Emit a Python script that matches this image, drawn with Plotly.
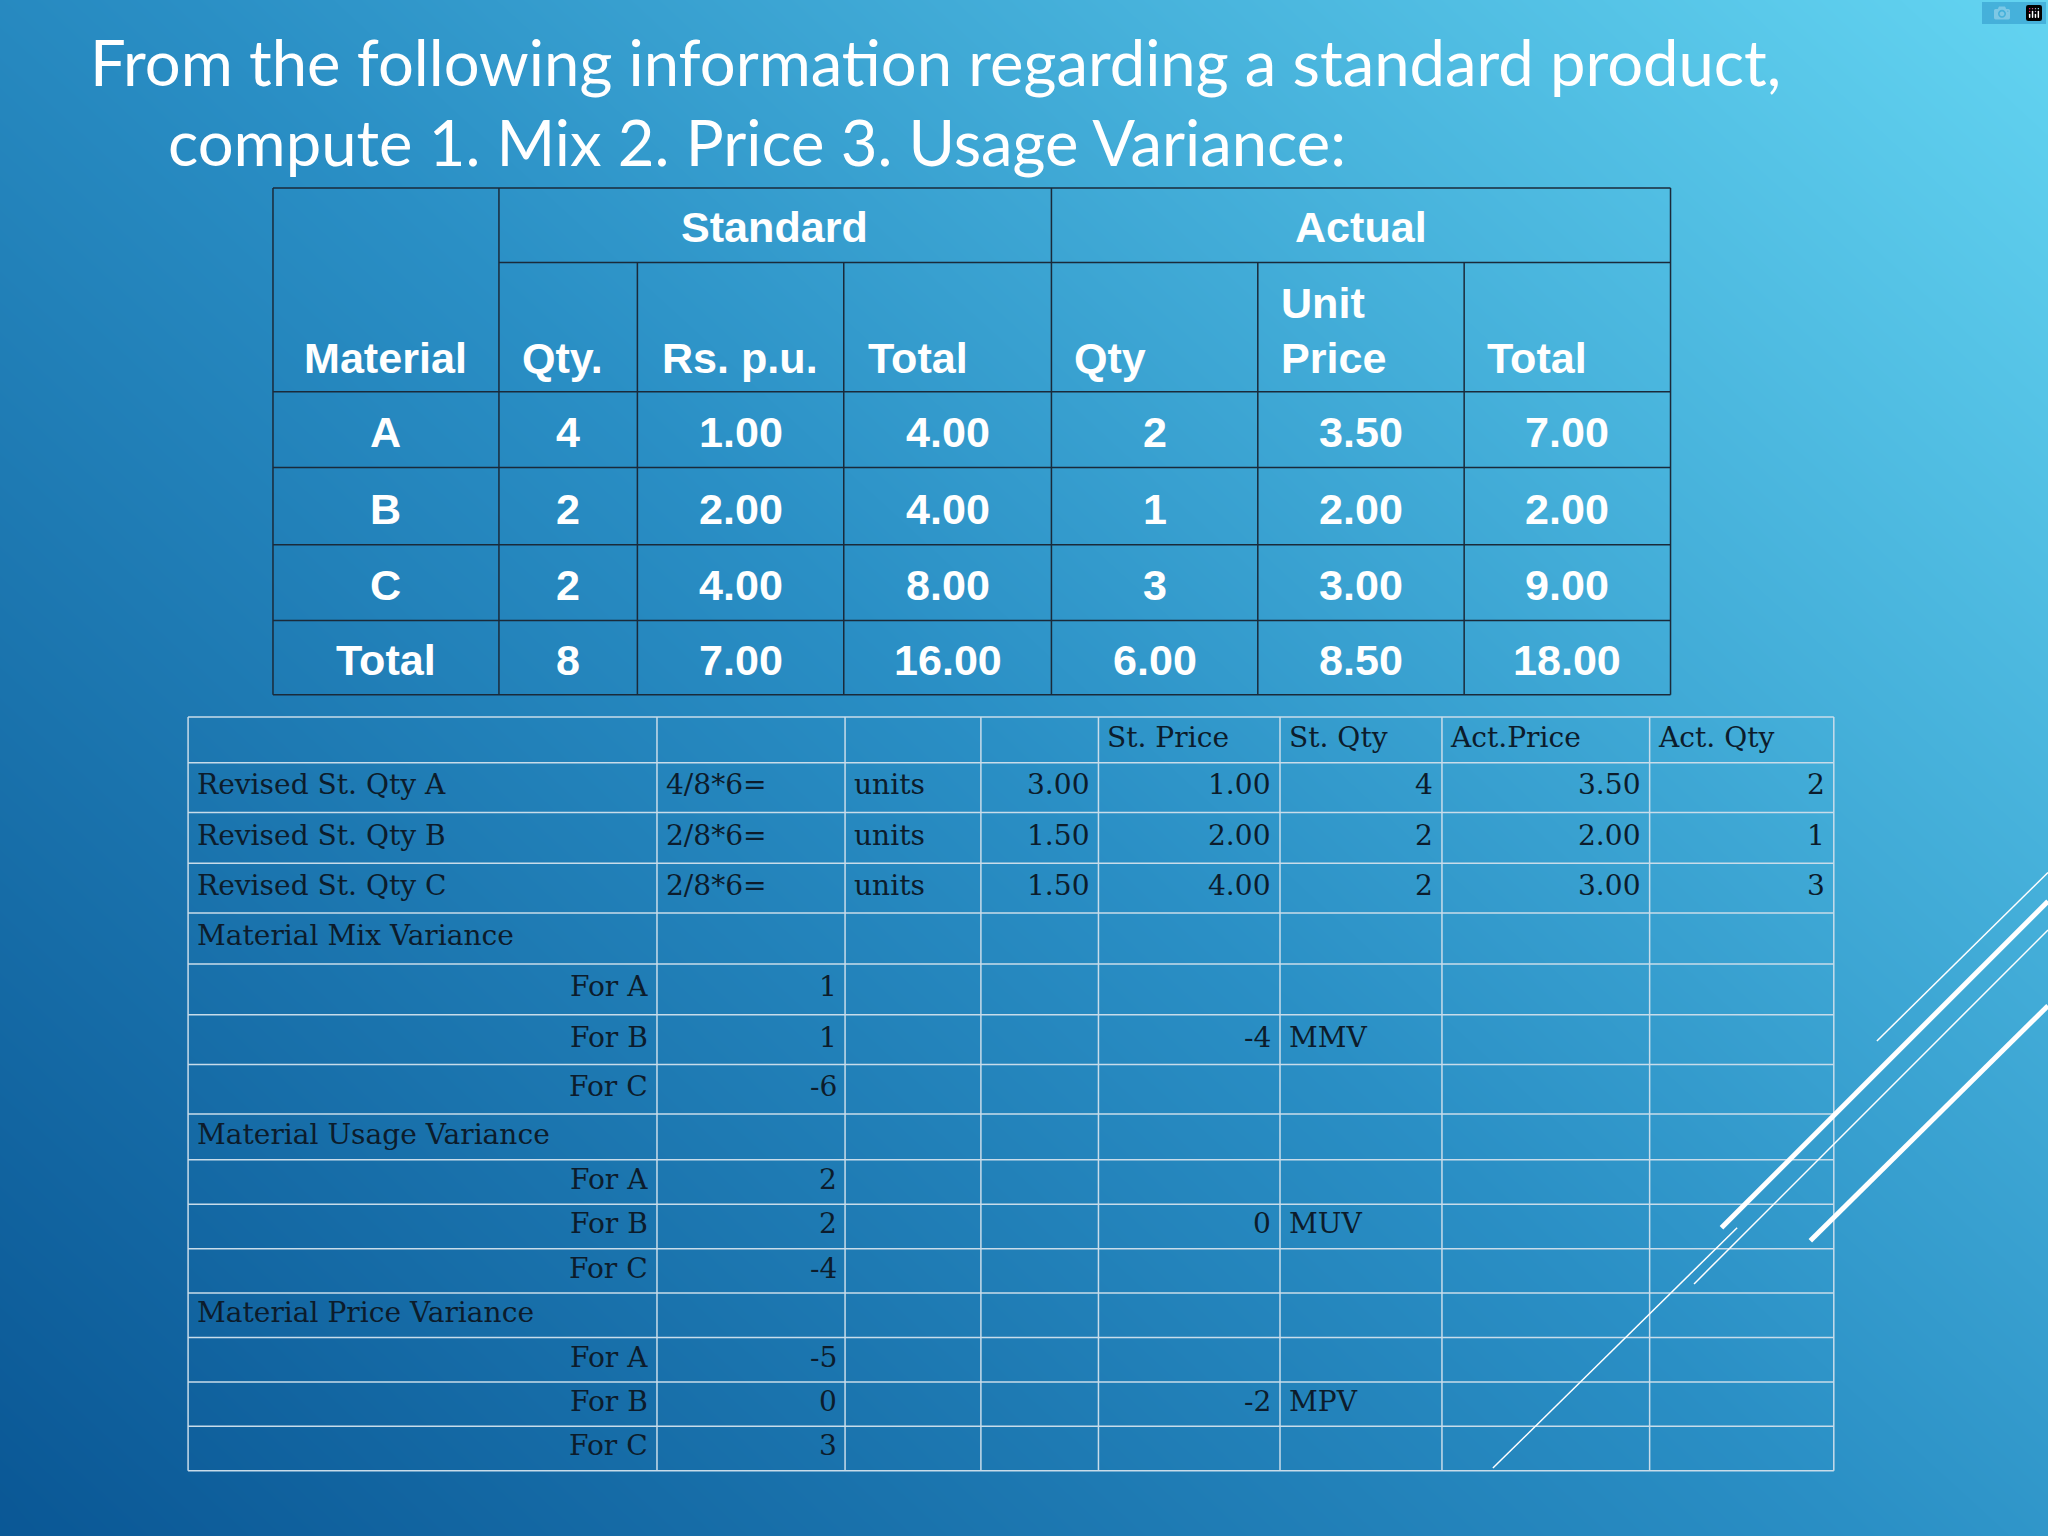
import plotly.graph_objects as go
import numpy as np

S = 2048/1568
title1 = "From the following information regarding a standard product,"
title2 = "compute 1. Mix 2. Price 3. Usage Variance:"

materials = ["A", "B", "C", "Total"]
std_qty = ["4", "2", "2", "8"]
std_rate = ["1.00", "2.00", "4.00", "7.00"]
std_total = ["4.00", "4.00", "8.00", "16.00"]
act_qty = ["2", "1", "3", "6.00"]
act_price = ["3.50", "2.00", "3.00", "8.50"]
act_total = ["7.00", "2.00", "9.00", "18.00"]

calc_header = ["", "", "", "", "St. Price", "St. Qty", "Act.Price", "Act. Qty"]
calc_rows = [
    ["Revised St. Qty A", "4/8*6=", "units", "3.00", "1.00", "4", "3.50", "2"],
    ["Revised St. Qty B", "2/8*6=", "units", "1.50", "2.00", "2", "2.00", "1"],
    ["Revised St. Qty C", "2/8*6=", "units", "1.50", "4.00", "2", "3.00", "3"],
    ["Material Mix Variance", "", "", "", "", "", "", ""],
    ["For A", "1", "", "", "", "", "", ""],
    ["For B", "1", "", "", "-4", "MMV", "", ""],
    ["For C", "-6", "", "", "", "", "", ""],
    ["Material Usage Variance", "", "", "", "", "", "", ""],
    ["For A", "2", "", "", "", "", "", ""],
    ["For B", "2", "", "", "0", "MUV", "", ""],
    ["For C", "-4", "", "", "", "", "", ""],
    ["Material Price Variance", "", "", "", "", "", "", ""],
    ["For A", "-5", "", "", "", "", "", ""],
    ["For B", "0", "", "", "-2", "MPV", "", ""],
    ["For C", "3", "", "", "", "", "", ""],
]

fig = go.Figure()
gx = np.linspace(-60, 1630, 30); gy = np.linspace(-60, 1240, 30)
X, Y = np.meshgrid(gx, gy)
Z = np.clip(X/1568*0.55 + (1-Y/1176)*0.45, 0, 1)
fig.add_trace(go.Heatmap(x=gx, y=gy, z=Z, showscale=False, hoverinfo="skip", zmin=0, zmax=1,
    colorscale=[[0, "#0a5795"], [0.5, "#2a8fc5"], [1, "#63d4f1"]], zsmooth="best"))

shapes, ann = [], []
def line(x0, y0, x1, y1, c, w):
    shapes.append(dict(type="line", x0=x0, y0=y0, x1=x1, y1=y1, line=dict(color=c, width=w)))
def text(x, y, t, size, color, family, xa="center", bold=False):
    ann.append(dict(x=x, y=y, text=f"<b>{t}</b>" if bold else t, showarrow=False, xanchor=xa, yanchor="middle",
                    font=dict(size=size*S, color=color, family=family)))

text(67, 47, title1, 48.5, "white", "Lato, Carlito, sans-serif", "left")
text(127, 108, title2, 48.5, "white", "Lato, Carlito, sans-serif", "left")

tx = [209, 382, 488, 646, 805, 963, 1121, 1279]
ty = [144, 201, 300, 358, 417, 475, 532]
tc = "#1a2a3a"
for y in ty:
    if y == 201:
        line(382, y, 1279, y, tc, 1.5)
    else:
        line(209, y, 1279, y, tc, 1.5)
for x in tx:
    y0 = 201 if x in (488, 646, 963, 1121) else 144
    line(x, y0, x, 532, tc, 1.5)
F = "Liberation Sans, Arial, sans-serif"
text(593, 174, "Standard", 33, "white", F, bold=True)
text(1042, 174, "Actual", 33, "white", F, bold=True)
text(295, 274, "Material", 33, "white", F, bold=True)
for x, t in [(398, "Qty."), (505, "Rs. p.u."), (663, "Total"), (821, "Qty"), (1137, "Total")]:
    text(x, 274, t, 33, "white", F, "left", True)
text(979, 232, "Unit", 33, "white", F, "left", True)
text(979, 274, "Price", 33, "white", F, "left", True)
cols = [materials, std_qty, std_rate, std_total, act_qty, act_price, act_total]
for i in range(4):
    yc = (ty[i+2] + ty[i+3]) / 2 + 2
    for j, col in enumerate(cols):
        text((tx[j] + tx[j+1]) / 2, yc, col[i], 33, "white", F, bold=True)

bx = [144, 503, 647, 751, 841, 980, 1104, 1263, 1404]
by = [549, 584, 622, 661, 699, 738, 777, 815, 853, 888, 922, 956, 990, 1024, 1058, 1092, 1126]
lc = "#c8dcea"
for y in by:
    line(144, y, 1404, y, lc, 1.5)
for x in bx:
    line(x, 549, x, 1126, lc, 1.5)
SF = "DejaVu Serif, serif"
dc = "#0c1c2c"
rows = [calc_header] + calc_rows
for i, r in enumerate(rows):
    yc = (by[i] + by[i+1]) / 2 - 2
    for j, t in enumerate(r):
        if not t:
            continue
        left = (i == 0) or t in ("units", "MMV", "MUV", "MPV") or "/" in t or (j == 0 and not t.startswith("For"))
        if left:
            text(bx[j] + 5, yc, t, 21.5, dc, SF, "left")
        else:
            text(bx[j+1] - 5, yc, t, 21.5, dc, SF, "right")

for x0, y0, x1, y1, w in [(1437, 797, 1568, 668, 1.5), (1318, 940, 1568, 690, 5),
                          (1297, 983, 1568, 712, 1.5), (1386, 950, 1568, 770, 5),
                          (1143, 1124, 1330, 940, 1.5)]:
    line(x0, y0, x1, y1, "white", w)

fig.update_layout(width=2048, height=1536, margin=dict(l=0, r=0, t=0, b=0),
                  shapes=shapes, annotations=ann, plot_bgcolor="#2a8fc5", paper_bgcolor="#2a8fc5",
                  xaxis=dict(range=[0, 1568], visible=False, fixedrange=True),
                  yaxis=dict(range=[1176, 0], visible=False, fixedrange=True))
fig.write_html("out.html", post_script="document.body.style.margin='0';document.body.style.background='#2a8fc5';")
